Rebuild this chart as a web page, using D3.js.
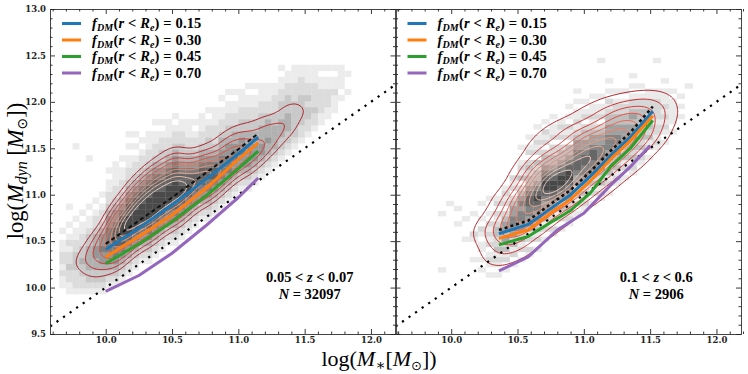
<!DOCTYPE html>
<html><head><meta charset="utf-8">
<script src="https://cdn.jsdelivr.net/npm/d3@7"></script>
<style>body{margin:0;background:#fff}</style>
</head><body>
<svg id="c" width="748" height="374" xmlns="http://www.w3.org/2000/svg"></svg>
<script>
// ---------------- data ----------------
const xDomain = [9.58, 12.185];
const yDomain = [9.5, 13.0];
const xMajorTicks = [10.0, 10.5, 11.0, 11.5, 12.0];
const yMajorTicks = [9.5, 10.0, 10.5, 11.0, 11.5, 12.0, 12.5, 13.0];
const fdmValues = ["0.15", "0.30", "0.45", "0.70"];
const seriesColors = ["#1f77b4", "#ff7f0e", "#2ca02c", "#9467bd"];

// left panel (0.05 < z < 0.07)
const leftX      = [10.0, 10.25, 10.5, 10.75, 11.0, 11.15];
const leftDashed = [10.47, 10.72, 10.97, 11.23, 11.49, 11.66];
const leftBlue   = [10.41, 10.64, 10.89, 11.16, 11.44, 11.62];
const leftOrange = [10.33, 10.55, 10.78, 11.06, 11.38, 11.56];
const leftGreen  = [10.26, 10.47, 10.71, 10.98, 11.28, 11.47];
const leftPurple = [9.96, 10.13, 10.37, 10.66, 10.97, 11.18];
const leftInfo = ["0.05 < z < 0.07", "N = 32097"];

// right panel (0.1 < z < 0.6)
const rightX      = [10.36, 10.58, 10.75, 10.9, 11.05, 11.2, 11.35, 11.52];
const rightDashed = [10.62, 10.72, 10.9, 11.05, 11.25, 11.47, 11.67, 11.95];
const rightBlue   = [10.58, 10.68, 10.85, 11.0, 11.2, 11.42, 11.62, 11.9];
const rightOrange = [10.53, 10.62, 10.8, 10.95, 11.15, 11.38, 11.58, 11.85];
const rightGreen  = [10.46, 10.55, 10.7, 10.83, 11.02, 11.3, 11.5, 11.8];
const rightPurpleX = [10.36, 10.58, 10.8, 11.0, 11.2, 11.35, 11.5];
const rightPurple  = [10.18, 10.33, 10.62, 10.8, 11.1, 11.3, 11.53];
const rightInfo = ["0.1 < z < 0.6", "N = 2906"];

// 2D histogram, left: bins x0=9.65 step 0.05, y0=9.80 step 0.065
// each column: [first row, grey levels upward (0 = empty)]
const histLeftBins = {x0: 9.65, dx: 0.05, y0: 9.80, dy: 0.065};
const histLeftColumns = [
  [3, "1121221101"],
  [2, "112232212101001"],
  [2, "1222333221101"],
  [2, "12233433221101"],
  [2, "123344443321101"],
  [2, "1233445544322101"],
  [2, "12334556554322101"],
  [3, "12345566665543221101"],
  [3, "123456677765543221101"],
  [4, "123456778876543221101"],
  [5, "1234567888776543221101"],
  [6, "12345678887765432210101"],
  [7, "123456788877654322101"],
  [7, "1234567888877654322111"],
  [8, "12345678888776543221101"],
  [9, "1234567888776543322101"],
  [10, "123456788877654322111"],
  [10, "1234567788877654322101"],
  [11, "12345678877654332211"],
  [12, "1234567877654322111"],
  [13, "123456777654322101"],
  [14, "123456777654322111"],
  [14, "1234566776543322101"],
  [15, "123456776543222111"],
  [16, "12345666654432211"],
  [17, "1234566655433221101"],
  [18, "123455665443221101"],
  [19, "12345565543322111"],
  [19, "123455554433221101"],
  [20, "12345554433221101"],
  [21, "1234554443322111"],
  [22, "123445444322111"],
  [23, "12344443322211"],
  [24, "1233444333221101"],
  [25, "123344433322110"],
  [26, "12333333222111"],
  [27, "1223333322211"],
  [28, "122332322111"],
  [29, "12232222111"],
  [30, "1122221101"],
  [31, "112221101"],
  [32, "11121101"],
  [34, "101101"],
  [35, "1001"]
];
const histLeftOutliers = [[2, 26, 1], [4, 24, 1], [10, 28, 1], [8, 22, 1], [18, 30, 1], [24, 34, 1], [42, 38, 1]];

// 2D histogram, right: bins x0=9.90 step 0.06, y0=10.00 step 0.055
const histRightBins = {x0: 9.90, dx: 0.06, y0: 10.0, dy: 0.055};
const histRightColumns = [
  [3, "100000000001"],
  [16, "1"],
  [12, "10010"],
  [9, "10001"],
  [5, "1000120001"],
  [3, "10101101201001"],
  [2, "1012102121201001"],
  [2, "10121322332120210"],
  [3, "102132434432021210"],
  [4, "1021324455443202120"],
  [5, "10213244554543203121001"],
  [6, "120213445566543323202101"],
  [7, "1021324456765433230212101"],
  [9, "102132445677654332021201"],
  [10, "120213456776543322021101"],
  [11, "102132456776543320212100"],
  [12, "121324456776543302120101"],
  [14, "10213244566554432121101"],
  [15, "1213234556654433202101"],
  [16, "1021324556654432121101"],
  [17, "121323445554432021101"],
  [18, "10213234455544332120101"],
  [20, "1213234455443322101"],
  [21, "102132344443322101"],
  [22, "12132334443432210101"],
  [24, "1213233333322101"],
  [25, "10213233232211"],
  [27, "121221222211"],
  [28, "1012121211101"],
  [30, "101111101"],
  [33, "10101"],
  [39, "1"]
];
const histRightOutliers = [[20, 44, 1], [27, 44, 1], [17, 38, 1]];

// ---------------- layout ----------------
const svg = d3.select("#c");
const plotTop = 9, plotBottom = 334;
const panelsX = [[50, 395.5], [395.5, 741]];
const ys = d3.scaleLinear().domain(yDomain).range([plotBottom, plotTop]);
const serif = "'Liberation Serif', 'DejaVu Serif', serif";
const tickFont = "'DejaVu Serif', serif";

function greyOf(l, k) { return d3.interpolateGreys(Math.min(0.85, 0.05 + l * 0.09 * k)); }

function boxBlur(a, w, h, r) {
  const tmp = new Float64Array(a.length), n = 2 * r + 1;
  for (let pass = 0; pass < 3; pass++) {
    for (let y = 0; y < h; y++) {
      const row = y * w; let s = 0;
      for (let x = 0; x <= r && x < w; x++) s += a[row + x];
      for (let x = 0; x < w; x++) {
        tmp[row + x] = s / n;
        const add = x + r + 1, rem = x - r;
        if (add < w) s += a[row + add];
        if (rem >= 0) s -= a[row + rem];
      }
    }
    for (let x = 0; x < w; x++) {
      let s = 0;
      for (let y = 0; y <= r && y < h; y++) s += tmp[y * w + x];
      for (let y = 0; y < h; y++) {
        a[y * w + x] = s / n;
        const add = y + r + 1, rem = y - r;
        if (add < h) s += tmp[add * w + x];
        if (rem >= 0) s -= tmp[rem * w + x];
      }
    }
  }
}

function cellsOf(cols, outliers) {
  const cells = [];
  cols.forEach(([start, str], c) => {
    for (let i = 0; i < str.length; i++) {
      const v = +str[i];
      if (v > 0) cells.push({c, r: start + i, v});
    }
  });
  (outliers || []).forEach(([c, r, v]) => cells.push({c, r, v}));
  return cells;
}

function drawPanel(idx, cfg) {
  const [x0, x1] = panelsX[idx];
  const xs = d3.scaleLinear().domain(xDomain).range([x0, x1]);
  const g = svg.append("g");
  const clipId = "clip" + idx;
  svg.append("clipPath").attr("id", clipId).append("rect")
    .attr("x", x0).attr("y", plotTop).attr("width", x1 - x0).attr("height", plotBottom - plotTop);
  const pg = g.append("g").attr("clip-path", `url(#${clipId})`);

  // histogram
  const b = cfg.bins;
  const cells = cellsOf(cfg.hist, cfg.outliers);
  pg.append("g").selectAll("rect").data(cells).join("rect")
    .attr("x", d => xs(b.x0 + d.c * b.dx))
    .attr("y", d => ys(b.y0 + (d.r + 1) * b.dy))
    .attr("width", d => xs(b.x0 + (d.c + 1) * b.dx) - xs(b.x0 + d.c * b.dx) + 0.3)
    .attr("height", d => ys(b.y0 + d.r * b.dy) - ys(b.y0 + (d.r + 1) * b.dy) + 0.3)
    .attr("fill", d => greyOf(d.v, cfg.greyK));

  // contours
  const U = 4, P = 6;
  const nC = d3.max(cells, d => d.c) + 1, nR = d3.max(cells, d => d.r) + 1;
  const W2 = (nC + 2 * P) * U, H2 = (nR + 2 * P) * U;
  const grid = new Float64Array(W2 * H2);
  cells.forEach(d => {
    for (let a = 0; a < U; a++) for (let bb = 0; bb < U; bb++)
      grid[((d.r + P) * U + bb) * W2 + (d.c + P) * U + a] = d.v;
  });
  boxBlur(grid, W2, H2, cfg.blur);
  const mx = d3.max(grid);
  const conts = d3.contours().size([W2, H2]).thresholds(cfg.levels.map(f => f * mx))(grid);
  const proj = d3.geoTransform({point(x, y) {
    this.stream.point(xs(b.x0 + (x / U - P) * b.dx), ys(b.y0 + (y / U - P) * b.dy));
  }});
  const path = d3.geoPath(proj);
  const n = conts.length;
  pg.append("g").selectAll("path").data(conts).join("path")
    .attr("d", path).attr("fill", "none")
    .attr("stroke", (d, i) => d3.interpolateReds(0.86 - 0.74 * i / (n - 1)))
    .attr("stroke-width", 0.9);

  // 1:1 dotted line
  pg.append("line")
    .attr("x1", xs(xDomain[0])).attr("y1", ys(xDomain[0]))
    .attr("x2", xs(xDomain[1])).attr("y2", ys(xDomain[1]))
    .attr("stroke", "#000").attr("stroke-width", 2.2).attr("stroke-dasharray", "2.2,5.8");

  const line = d3.line().x(d => xs(d[0])).y(d => ys(d[1]));
  // dashed black
  pg.append("path").attr("d", line(d3.zip(cfg.x, cfg.dashed)))
    .attr("fill", "none").attr("stroke", "#111").attr("stroke-width", cfg.dashW)
    .attr("stroke-dasharray", cfg.dashPat);
  // fDM series
  cfg.series.forEach((s, i) => {
    pg.append("path").attr("d", line(d3.zip(s.x, s.y)))
      .attr("fill", "none").attr("stroke", seriesColors[i]).attr("stroke-width", 3)
      .attr("stroke-linejoin", "round");
  });

  // legend
  const lg = g.append("g");
  fdmValues.forEach((v, i) => {
    const yy = 23.5 + i * 16.5;
    lg.append("line").attr("x1", x0 + 12).attr("x2", x0 + 31).attr("y1", yy).attr("y2", yy)
      .attr("stroke", seriesColors[i]).attr("stroke-width", 3);
    const t = lg.append("text").attr("x", x0 + 42).attr("y", yy + 4.5)
      .attr("font-family", serif).attr("font-size", 14.5).attr("font-weight", "bold")
      .attr("letter-spacing", 0.15);
    t.append("tspan").attr("font-style", "italic").text("f");
    t.append("tspan").attr("font-style", "italic").attr("font-size", 10).attr("dy", 3).text("DM");
    t.append("tspan").attr("dy", -3).text("(");
    t.append("tspan").attr("font-style", "italic").text("r");
    t.append("tspan").text(" < ");
    t.append("tspan").attr("font-style", "italic").text("R");
    t.append("tspan").attr("font-style", "italic").attr("font-size", 10).attr("dy", 3).text("e");
    t.append("tspan").attr("dy", -3).text(") = " + v);
  });

  // annotation
  const cx = (x0 + x1) / 2 + cfg.infoDx;
  const [zs, ns] = cfg.info;
  const zParts = zs.split("z");
  const t1 = g.append("text").attr("x", cx).attr("y", 282).attr("text-anchor", "middle")
    .attr("font-family", serif).attr("font-size", 14.5).attr("font-weight", "bold");
  t1.append("tspan").text(zParts[0]);
  t1.append("tspan").attr("font-style", "italic").text("z");
  t1.append("tspan").text(zParts[1]);
  const t2 = g.append("text").attr("x", cx).attr("y", 299).attr("text-anchor", "middle")
    .attr("font-family", serif).attr("font-size", 14.5).attr("font-weight", "bold");
  t2.append("tspan").attr("font-style", "italic").text("N");
  t2.append("tspan").text(ns.slice(1));

  // axes
  const minorX = d3.range(9.6, 12.2001, 0.1).map(v => +v.toFixed(1)).filter(v => !xMajorTicks.includes(v));
  const minorY = d3.range(9.5, 13.0001, 0.1).map(v => +v.toFixed(1)).filter(v => !yMajorTicks.includes(v));
  const ax = g.append("g").attr("color", "#222");
  const fmt = d3.format(".1f");
  const addAxis = (gen, tr) => ax.append("g").attr("transform", tr).call(gen)
    .call(s => s.select(".domain").attr("stroke", "#444").attr("stroke-width", 1));
  addAxis(d3.axisBottom(xs).tickValues(xMajorTicks).tickSize(-5).tickSizeOuter(0).tickPadding(2.5).tickFormat(fmt), `translate(0,${plotBottom})`);
  addAxis(d3.axisBottom(xs).tickValues(minorX).tickSize(-2.5).tickSizeOuter(0).tickFormat(""), `translate(0,${plotBottom})`);
  addAxis(d3.axisTop(xs).tickValues(xMajorTicks).tickSize(-5).tickSizeOuter(0).tickFormat(""), `translate(0,${plotTop})`);
  addAxis(d3.axisTop(xs).tickValues(minorX).tickSize(-2.5).tickSizeOuter(0).tickFormat(""), `translate(0,${plotTop})`);
  addAxis(d3.axisLeft(ys).tickValues(yMajorTicks).tickSize(-5).tickSizeOuter(0).tickPadding(4)
    .tickFormat(idx === 0 ? fmt : ""), `translate(${x0},0)`);
  addAxis(d3.axisLeft(ys).tickValues(minorY).tickSize(-2.5).tickSizeOuter(0).tickFormat(""), `translate(${x0},0)`);
  addAxis(d3.axisRight(ys).tickValues(yMajorTicks).tickSize(-5).tickSizeOuter(0).tickFormat(""), `translate(${x1},0)`);
  addAxis(d3.axisRight(ys).tickValues(minorY).tickSize(-2.5).tickSizeOuter(0).tickFormat(""), `translate(${x1},0)`);
  ax.selectAll("text").attr("font-family", tickFont).attr("font-size", 8.5)
    .attr("font-weight", "bold").attr("fill", "#222");
  ax.selectAll(".tick line").attr("stroke", "#222").attr("stroke-width", 0.9);
}

drawPanel(0, {
  bins: histLeftBins, hist: histLeftColumns, outliers: histLeftOutliers, blur: 4, greyK: 1,
  levels: [0.36, 0.46, 0.55, 0.63, 0.70, 0.77, 0.83, 0.88, 0.93],
  x: leftX, dashed: leftDashed, dashW: 2, dashPat: "4,3",
  series: [{x: leftX, y: leftBlue}, {x: leftX, y: leftOrange}, {x: leftX, y: leftGreen}, {x: leftX, y: leftPurple}],
  info: leftInfo, infoDx: 87
});
drawPanel(1, {
  bins: histRightBins, hist: histRightColumns, outliers: histRightOutliers, blur: 6, greyK: 1.15,
  levels: [0.13, 0.25, 0.36, 0.46, 0.55, 0.64, 0.72, 0.79, 0.86, 0.93],
  x: rightX, dashed: rightDashed, dashW: 2.6, dashPat: "3,3",
  series: [{x: rightX, y: rightBlue}, {x: rightX, y: rightOrange}, {x: rightX, y: rightGreen}, {x: rightPurpleX, y: rightPurple}],
  info: rightInfo, infoDx: 88
});

// axis labels
const yl = svg.append("text").attr("transform", "translate(23,171) rotate(-90)")
  .attr("text-anchor", "middle").attr("font-family", serif).attr("font-size", 22.5);
yl.append("tspan").text("log(");
yl.append("tspan").attr("font-style", "italic").text("M");
yl.append("tspan").attr("font-style", "italic").attr("font-size", 16).attr("dy", 4).text("dyn");
yl.append("tspan").attr("dy", -4).text(" [");
yl.append("tspan").attr("font-style", "italic").text("M");
yl.append("tspan").attr("font-family", "'DejaVu Sans', sans-serif").attr("font-size", 14).attr("dy", 4).text("⊙");
yl.append("tspan").attr("dy", -4).text("])");

const xl = svg.append("text").attr("x", 379).attr("y", 366)
  .attr("text-anchor", "middle").attr("font-family", serif).attr("font-size", 22);
xl.append("tspan").text("log(");
xl.append("tspan").attr("font-style", "italic").text("M");
xl.append("tspan").attr("font-size", 15).attr("dy", 3.5).text("∗");
xl.append("tspan").attr("dy", -3.5).text("[");
xl.append("tspan").attr("font-style", "italic").text("M");
xl.append("tspan").attr("font-family", "'DejaVu Sans', sans-serif").attr("font-size", 13).attr("dy", 3.5).text("⊙");
xl.append("tspan").attr("dy", -3.5).text("])");
</script>
</body></html>
